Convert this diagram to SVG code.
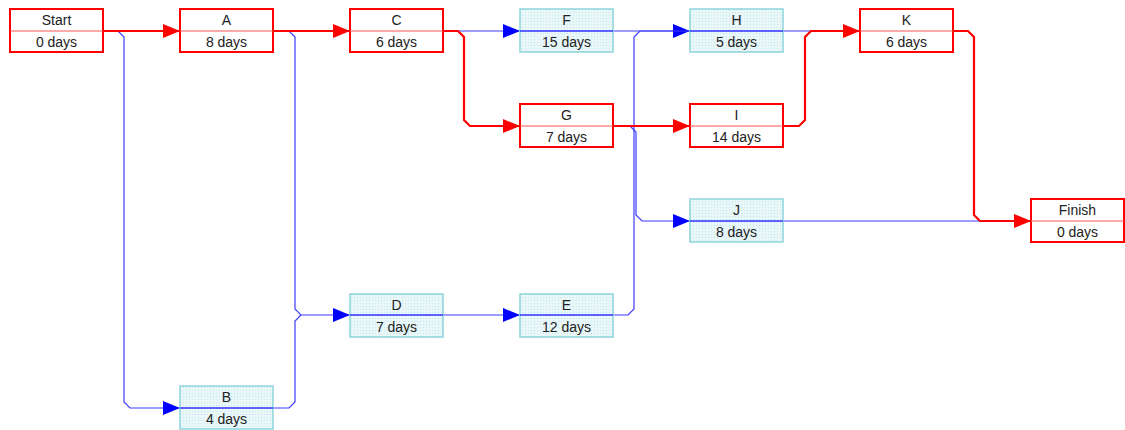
<svg xmlns="http://www.w3.org/2000/svg" width="1125" height="430" viewBox="0 0 1125 430">
<style>
.bg{fill:#ffffff}
.crit rect{fill:#ffffff;stroke:#ff0000;stroke-width:2}
.crit line{stroke:#ff5555;stroke-width:1.2}
.nc rect{fill:url(#dots);stroke:#8cd4dc;stroke-width:1.5}
.nc line{stroke:#3030ff;stroke-width:1.5}
text{font-family:"Liberation Sans",Arial,sans-serif;font-size:14px;fill:#222222;text-anchor:middle}
.blue{fill:none;stroke:#3c3cff;stroke-width:1.2}
.red{fill:none;stroke:#ff0000;stroke-width:2.2}
</style>
<defs>
<pattern id="dots" width="3" height="3" patternUnits="userSpaceOnUse">
<rect width="3" height="3" fill="#e9f7f9"/>
<rect width="1" height="1" fill="#c4e6ec"/>
</pattern>
<marker id="ab" viewBox="0 0 17 14" refX="17" refY="7" markerWidth="17" markerHeight="14" markerUnits="userSpaceOnUse" orient="auto">
<path d="M0,0 L17,7 L0,14 Z" fill="#0000ff"/>
</marker>
<marker id="ar" viewBox="0 0 17 14" refX="17" refY="7" markerWidth="17" markerHeight="14" markerUnits="userSpaceOnUse" orient="auto">
<path d="M0,0 L17,7 L0,14 Z" fill="#ff0000"/>
</marker>
</defs>
<rect class="bg" width="1125" height="430"/>
<g id="connectors">
<path class="blue" d="M103,31 H118 L124,37 V402 L130,408 H180" marker-end="url(#ab)"/>
<path class="blue" d="M273,31 H289 L295,37 V309 L301,315 H350" marker-end="url(#ab)"/>
<path class="blue" d="M273,408 H289 L295,402 V321 L301,315"/>
<path class="blue" d="M443,31 H520" marker-end="url(#ab)"/>
<path class="blue" d="M443,315 H520" marker-end="url(#ab)"/>
<path class="blue" d="M613,31 H690" marker-end="url(#ab)"/>
<path class="blue" d="M613,315 H628 L634,309 V37 L640,31 H690"/>
<path class="blue" d="M613,126 H630 L636,132 V215 L642,221 H690" marker-end="url(#ab)"/>
<path class="blue" d="M783,31 H860"/>
<path class="blue" d="M783,221 H1031"/>
<path class="red" d="M103,31 H180" marker-end="url(#ar)"/>
<path class="red" d="M273,31 H350" marker-end="url(#ar)"/>
<path class="red" d="M443,31 H458 L464,37 V120 L470,126 H520" marker-end="url(#ar)"/>
<path class="red" d="M613,126 H690" marker-end="url(#ar)"/>
<path class="red" d="M783,126 H799 L805,120 V37 L811,31 H860" marker-end="url(#ar)"/>
<path class="red" d="M953,31 H968 L974,37 V215 L980,221 H1031" marker-end="url(#ar)"/>
</g>
<g id="node-start" class="crit"><rect x="10" y="9" width="93" height="43"/><line x1="10" y1="31" x2="103" y2="31"/><text x="56.5" y="25">Start</text><text x="56.5" y="47">0 days</text></g>
<g id="node-a" class="crit"><rect x="180" y="9" width="93" height="43"/><line x1="180" y1="31" x2="273" y2="31"/><text x="226.5" y="25">A</text><text x="226.5" y="47">8 days</text></g>
<g id="node-c" class="crit"><rect x="350" y="9" width="93" height="43"/><line x1="350" y1="31" x2="443" y2="31"/><text x="396.5" y="25">C</text><text x="396.5" y="47">6 days</text></g>
<g id="node-f" class="nc"><rect x="520" y="9" width="93" height="43"/><line x1="520" y1="31" x2="613" y2="31"/><text x="566.5" y="25">F</text><text x="566.5" y="47">15 days</text></g>
<g id="node-h" class="nc"><rect x="690" y="9" width="93" height="43"/><line x1="690" y1="31" x2="783" y2="31"/><text x="736.5" y="25">H</text><text x="736.5" y="47">5 days</text></g>
<g id="node-k" class="crit"><rect x="860" y="9" width="93" height="43"/><line x1="860" y1="31" x2="953" y2="31"/><text x="906.5" y="25">K</text><text x="906.5" y="47">6 days</text></g>
<g id="node-g" class="crit"><rect x="520" y="104" width="93" height="43"/><line x1="520" y1="126" x2="613" y2="126"/><text x="566.5" y="120">G</text><text x="566.5" y="142">7 days</text></g>
<g id="node-i" class="crit"><rect x="690" y="104" width="93" height="43"/><line x1="690" y1="126" x2="783" y2="126"/><text x="736.5" y="120">I</text><text x="736.5" y="142">14 days</text></g>
<g id="node-j" class="nc"><rect x="690" y="199" width="93" height="43"/><line x1="690" y1="221" x2="783" y2="221"/><text x="736.5" y="215">J</text><text x="736.5" y="237">8 days</text></g>
<g id="node-finish" class="crit"><rect x="1031" y="199" width="93" height="43"/><line x1="1031" y1="221" x2="1124" y2="221"/><text x="1077.5" y="215">Finish</text><text x="1077.5" y="237">0 days</text></g>
<g id="node-d" class="nc"><rect x="350" y="294" width="93" height="43"/><line x1="350" y1="315" x2="443" y2="315"/><text x="396.5" y="310">D</text><text x="396.5" y="332">7 days</text></g>
<g id="node-e" class="nc"><rect x="520" y="294" width="93" height="43"/><line x1="520" y1="315" x2="613" y2="315"/><text x="566.5" y="310">E</text><text x="566.5" y="332">12 days</text></g>
<g id="node-b" class="nc"><rect x="180" y="386" width="93" height="43"/><line x1="180" y1="408" x2="273" y2="408"/><text x="226.5" y="402">B</text><text x="226.5" y="424">4 days</text></g>
</svg>
